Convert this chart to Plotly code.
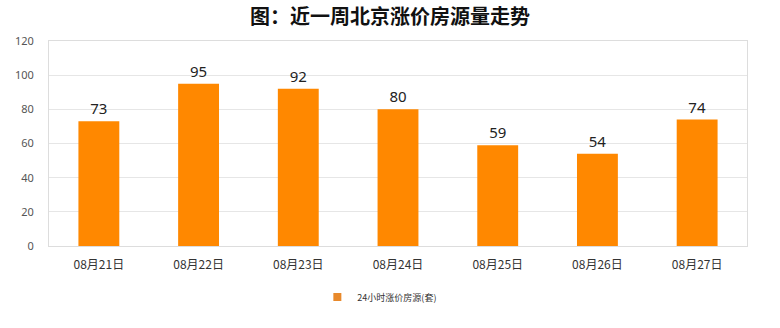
import plotly.graph_objects as go

categories = ["08月21日", "08月22日", "08月23日", "08月24日", "08月25日", "08月26日", "08月27日"]
values = [73, 95, 92, 80, 59, 54, 74]
series_name = "24小时涨价房源(套)"
title = "图：近一周北京涨价房源量走势"
y_ticks = [0, 20, 40, 60, 80, 100, 120]

fig = go.Figure()
fig.add_trace(go.Bar(
    x=categories, y=values, name=series_name,
    marker=dict(color="#FF8800", line=dict(width=0)),
    width=0.41,
    text=values, textposition="outside", cliponaxis=False,
    textfont=dict(size=15, color="#222", family="Noto Sans"),
    showlegend=False,
))
# legend-only entry with a small square marker
fig.add_trace(go.Scatter(
    x=[None], y=[None], mode="markers", name=series_name,
    marker=dict(symbol="square", size=8, color="#E8892B"),
    showlegend=True,
))

fig.update_layout(
    width=780, height=328,
    margin=dict(l=49, r=33, t=41, b=82, autoexpand=False),
    paper_bgcolor="white", plot_bgcolor="white",
    title=dict(text="<b>" + title + "</b>", x=0.5, xanchor="center",
               y=1 - 17 / 328, yanchor="middle", yref="container",
               font=dict(size=20, color="#111", family="Noto Sans CJK SC")),
    font=dict(family="Noto Sans CJK SC"),
    showlegend=True,
    legend=dict(orientation="h", x=0.474, xanchor="center", xref="paper",
                y=1 - 297 / 328, yanchor="middle", yref="container",
                font=dict(size=9, color="#333", family="Noto Sans CJK SC"),
                itemwidth=30,
                bgcolor="rgba(0,0,0,0)"),
    bargap=0.59,
)
fig.update_yaxes(range=[0, 120], tickvals=y_ticks, showgrid=True, gridcolor="#E6E6E6",
                 gridwidth=1, zeroline=False, showline=True, linecolor="#DDDDDD", mirror=True,
                 ticks="", tickfont=dict(size=11, color="#555", family="Noto Sans"),
                 ticklabelstandoff=12, automargin=False)
fig.update_xaxes(showline=True, linecolor="#DDDDDD", mirror=True, ticks="",
                 ticklabelstandoff=8, automargin=False,
                 tickfont=dict(size=12, color="#333", family="Noto Sans CJK SC"))

fig.write_html("out.html")
